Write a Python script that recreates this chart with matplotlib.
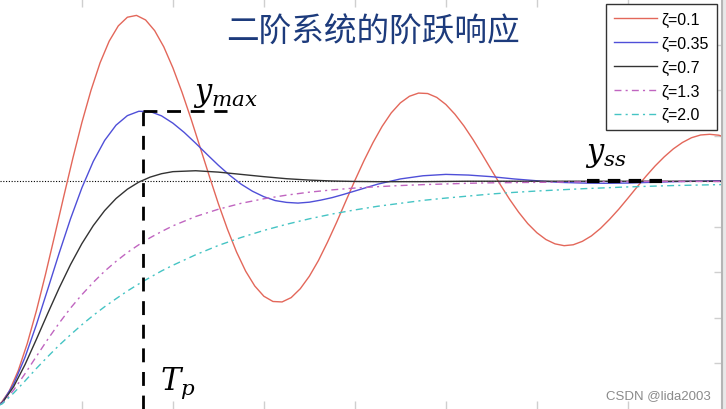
import matplotlib
matplotlib.use('Agg')
import matplotlib.pyplot as plt

# step responses (time in s, wn = 1)
t_red = [0.0, 0.2, 0.4, 0.6, 0.8, 1.0, 1.2, 1.4, 1.6, 1.8, 2.0, 2.2, 2.4, 2.6,
         2.8, 3.0, 3.2, 3.4, 3.6, 3.8, 4.0, 4.2, 4.4, 4.6, 4.8, 5.0, 5.2, 5.4,
         5.6, 5.8, 6.0, 6.2, 6.4, 6.6, 6.8, 7.0, 7.2, 7.4, 7.6, 7.8, 8.0, 8.2,
         8.4, 8.6, 8.8, 9.0, 9.2, 9.4, 9.6, 9.8, 10.0, 10.2, 10.4, 10.6, 10.8,
         11.0, 11.2, 11.4, 11.6, 11.8, 12.0, 12.2, 12.4, 12.6, 12.8, 13.0,
         13.2, 13.4, 13.6, 13.8, 14.0, 14.2, 14.4, 14.6, 14.8, 15.0, 15.2,
         15.4, 15.6, 15.8, 16.0, 16.2, 16.4]
y_red = [0.000, 0.020, 0.077, 0.168, 0.288, 0.431, 0.591, 0.760, 0.932, 1.100,
         1.258, 1.399, 1.520, 1.615, 1.682, 1.720, 1.728, 1.708, 1.661, 1.590,
         1.498, 1.391, 1.273, 1.148, 1.023, 0.901, 0.789, 0.689, 0.605, 0.540,
         0.495, 0.472, 0.470, 0.489, 0.528, 0.583, 0.652, 0.733, 0.820, 0.912,
         1.003, 1.090, 1.170, 1.241, 1.300, 1.344, 1.373, 1.387, 1.385, 1.368,
         1.337, 1.294, 1.242, 1.182, 1.117, 1.050, 0.984, 0.921, 0.864, 0.814,
         0.774, 0.744, 0.725, 0.717, 0.721, 0.736, 0.760, 0.793, 0.833, 0.877,
         0.925, 0.974, 1.022, 1.067, 1.107, 1.142, 1.170, 1.191, 1.203, 1.206,
         1.202, 1.189, 1.170]

t_blue = [0.0, 0.25, 0.5, 0.75, 1.0, 1.25, 1.5, 1.75, 2.0, 2.25, 2.5, 2.75,
          3.0, 3.25, 3.5, 3.75, 4.0, 4.25, 4.5, 4.75, 5.0, 5.25, 5.5, 5.75,
          6.0, 6.25, 6.5, 6.75, 7.0, 7.25, 7.5, 7.75, 8.0, 8.5, 9.0, 9.5,
          10.0, 10.5, 11.0, 11.5, 12.0, 12.5, 13.0, 13.5, 14.0, 14.5, 15.0,
          15.5, 16.0, 16.5]
y_blue = [0.000, 0.029, 0.109, 0.227, 0.370, 0.526, 0.684, 0.835, 0.971, 1.087,
          1.179, 1.246, 1.288, 1.307, 1.306, 1.287, 1.255, 1.214, 1.167, 1.118,
          1.070, 1.026, 0.987, 0.956, 0.932, 0.915, 0.907, 0.904, 0.908, 0.917,
          0.928, 0.942, 0.957, 0.987, 1.010, 1.024, 1.030, 1.027, 1.020, 1.010,
          1.002, 0.995, 0.992, 0.991, 0.992, 0.995, 0.998, 1.000, 1.002, 1.003]

t_slow = [0.0, 0.25, 0.5, 0.75, 1.0, 1.25, 1.5, 1.75, 2.0, 2.25, 2.5, 2.75,
          3.0, 3.25, 3.5, 3.75, 4.0, 4.5, 5.0, 5.5, 6.0, 6.5, 7.0, 7.5, 8.0,
          8.5, 9.0, 9.5, 10.0, 10.5, 11.0, 11.5, 12.0, 12.5, 13.0, 13.5, 14.0,
          14.5, 15.0, 15.5, 16.0, 16.5]
y_black = [0.000, 0.027, 0.098, 0.195, 0.306, 0.420, 0.531, 0.634, 0.726,
           0.805, 0.871, 0.924, 0.965, 0.996, 1.018, 1.033, 1.042, 1.046,
           1.040, 1.030, 1.020, 1.011, 1.005, 1.001, 0.999, 0.998, 0.998,
           0.998, 0.999, 1.000, 1.000, 1.000, 1.000, 1.000, 1.000, 1.000,
           1.000, 1.000, 1.000, 1.000, 1.000, 1.000]
y_mag = [0.000, 0.025, 0.083, 0.155, 0.231, 0.306, 0.377, 0.443, 0.502, 0.556,
         0.605, 0.648, 0.687, 0.721, 0.752, 0.779, 0.804, 0.845, 0.877, 0.903,
         0.923, 0.939, 0.952, 0.962, 0.970, 0.976, 0.981, 0.985, 0.988, 0.991,
         0.993, 0.994, 0.995, 0.996, 0.997, 0.998, 0.998, 0.999, 0.999, 0.999,
         0.999, 0.999]
y_cyan = [0.000, 0.023, 0.070, 0.123, 0.178, 0.230, 0.280, 0.326, 0.370,
          0.411, 0.449, 0.484, 0.518, 0.549, 0.578, 0.606, 0.631, 0.677,
          0.718, 0.753, 0.784, 0.811, 0.835, 0.856, 0.874, 0.890, 0.903,
          0.916, 0.926, 0.935, 0.944, 0.951, 0.957, 0.962, 0.967, 0.971,
          0.975, 0.978, 0.981, 0.983, 0.985, 0.987]

labels = ['ζ=0.1', 'ζ=0.35', 'ζ=0.7', 'ζ=1.3', 'ζ=2.0']

# annotation values (peak of the zeta=0.35 curve, steady state part)
tp = 3.35
y_max = 1.309
y_max_end = 5.2
yss_start, yss_end = 13.1, 14.8

plt.rcParams['mathtext.fontset'] = 'dejavuserif'

fig = plt.figure(figsize=(7.26, 4.10), dpi=100, facecolor='#e8e8e8')
ax = fig.add_axes([0, 0, 722 / 726, 1])
ax.set_facecolor('white')

ax.axhline(1.0, color='black', lw=0.8, ls=(0, (1, 1.5)))

ax.plot(t_red, y_red, color='#e3675a', lw=1.0, label=labels[0])
ax.plot(t_blue, y_blue, color='#4f4fd8', lw=1.0, label=labels[1])
ax.plot(t_slow, y_black, color='#333333', lw=1.0, label=labels[2])
ax.plot(t_slow, y_mag, color='#c065c0', lw=1.0, dashes=(5, 3, 1.5, 3),
        label=labels[3])
ax.plot(t_slow, y_cyan, color='#45c4c4', lw=1.0, dashes=(5, 3, 1.5, 3),
        label=labels[4])

# peak time / max value markers
ax.plot([tp, tp], [0, y_max], color='black', lw=2, dashes=(5, 3.5))
ax.plot([tp, y_max_end], [y_max, y_max], color='black', lw=2, dashes=(5, 3.5))
ax.plot([yss_start, yss_end], [1.0, 1.0], color='black', lw=3, dashes=(3, 2))

ax.text(4.44, 1.355, r'$y_{max}$', fontsize=22, va='baseline')
ax.text(13.05, 1.092, r'$y_{ss}$', fontsize=22, va='baseline')
ax.text(3.71, 0.09, r'$T_p$', fontsize=22, va='baseline')

ax.text(8.4, 1.657, '二阶系统的阶跃响应', fontsize=23.5, color='#1d3b7c',
        family=['Noto Sans CJK SC', 'DejaVu Sans'], ha='center', va='center')

ax.set_xlim(0.2, 16.07)
ax.set_ylim(0, 1.8)
ax.set_xticks([2, 4, 6, 8, 10, 12, 14])
ax.set_yticks([0.2, 0.4, 0.6, 0.8, 1.0, 1.2, 1.4, 1.6])
ax.tick_params(direction='in', length=6, width=1, color='#cfcfcf',
               top=True, bottom=True, left=False, right=True,
               labelbottom=False, labelleft=False)
for side in ['top', 'bottom', 'left']:
    ax.spines[side].set_visible(False)
ax.spines['right'].set_color('#b5b5b5')
ax.spines['right'].set_linewidth(1.5)

leg = ax.legend(loc='upper right', bbox_to_anchor=(717 / 726, 1 - 5 / 410),
                bbox_transform=fig.transFigure, borderaxespad=0,
                fancybox=False, framealpha=1, edgecolor='#333333',
                prop={'family': 'Liberation Sans', 'size': 11.5},
                handlelength=2.7, handletextpad=0.3, labelspacing=0.55,
                borderpad=0.5)
leg.get_frame().set_linewidth(1.0)

fig.text(711 / 726, 1 - 396 / 410, 'CSDN @lida2003', color='#8a8a8a',
         fontsize=9.5, family='Liberation Sans', ha='right', va='center')

fig.savefig('out.png', dpi=100, facecolor=fig.get_facecolor())
